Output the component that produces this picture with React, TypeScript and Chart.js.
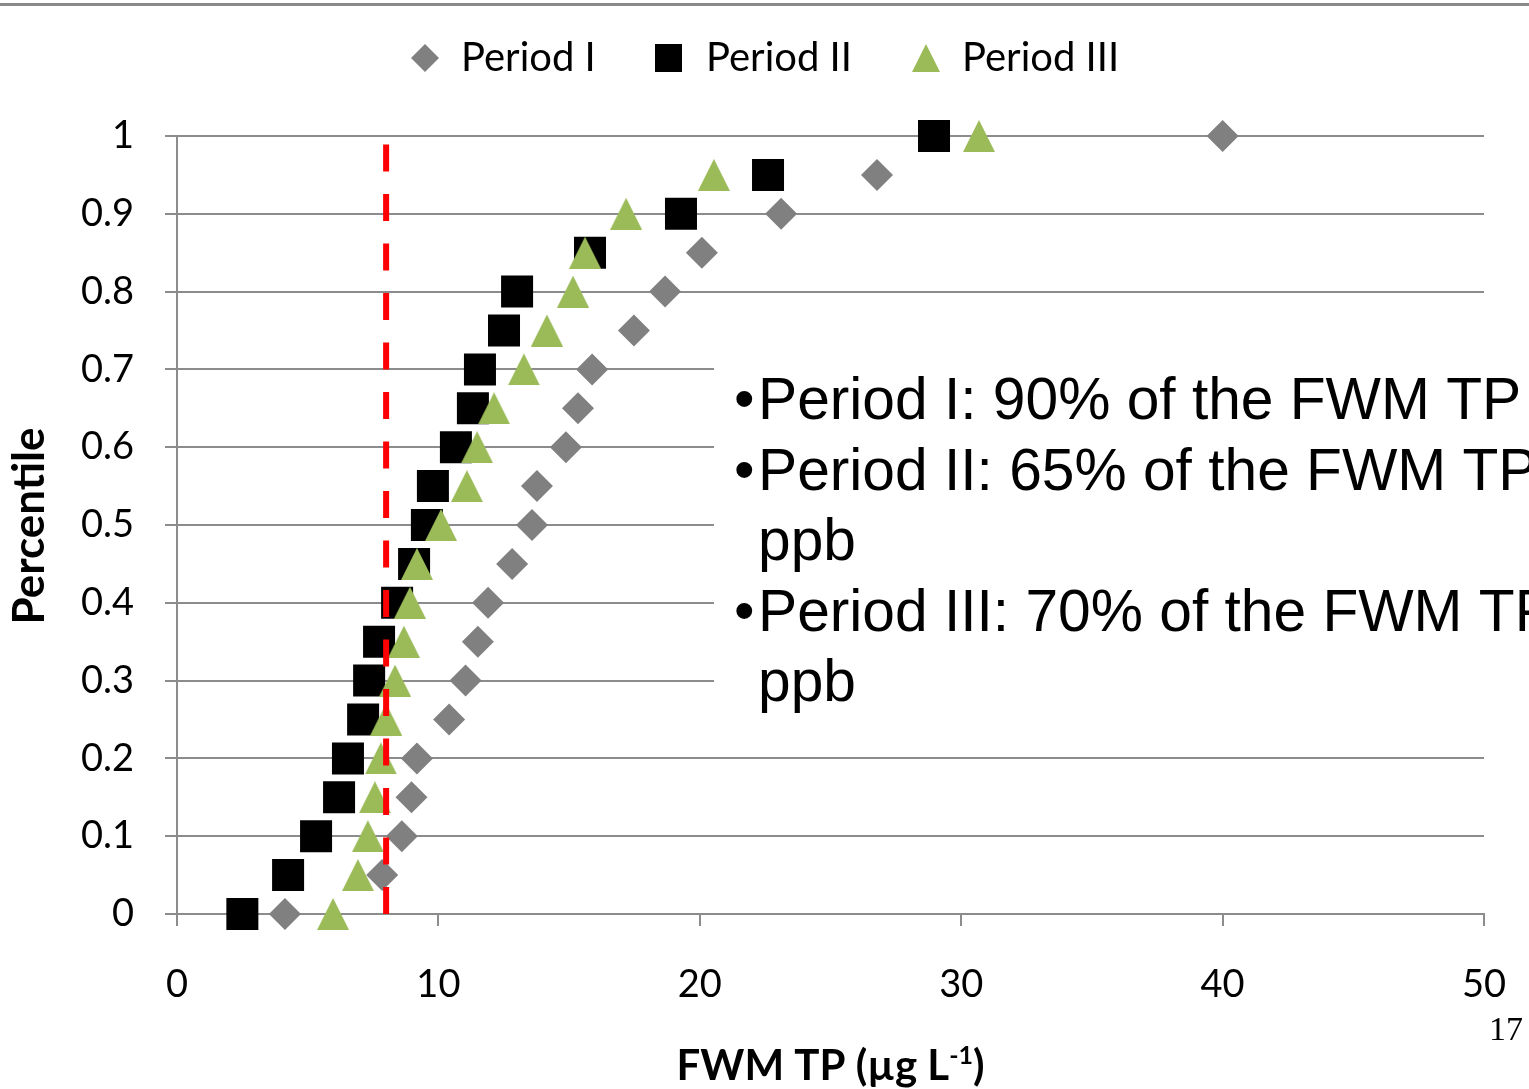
import React, { useEffect, useRef } from 'react';
import { Chart, registerables } from 'chart.js';

Chart.register(...registerables);

// ---- data ----
const percentiles = [0, 0.05, 0.1, 0.15, 0.2, 0.25, 0.3, 0.35, 0.4, 0.45, 0.5, 0.55, 0.6, 0.65, 0.7, 0.75, 0.8, 0.85, 0.9, 0.95, 1];
const periodI = [4.13, 7.85, 8.6, 8.97, 9.18, 10.41, 11.04, 11.51, 11.9, 12.82, 13.58, 13.77, 14.88, 15.34, 15.88, 17.48, 18.67, 20.08, 23.11, 26.78, 40.0];
const periodII = [2.5, 4.25, 5.32, 6.2, 6.54, 7.12, 7.35, 7.73, 8.42, 9.07, 9.56, 9.79, 10.67, 11.32, 11.59, 12.51, 13.01, 15.8, 19.28, 22.61, 28.96];
const periodIII = [5.97, 6.92, 7.3, 7.57, 7.8, 8.0, 8.34, 8.68, 8.91, 9.18, 10.1, 11.09, 11.48, 12.13, 13.27, 14.15, 15.15, 15.61, 17.18, 20.54, 30.68];
const thresholdX = [8, 8];
const thresholdY = [0, 1];
const seriesNames = ['Period I', 'Period II', 'Period III'];
const xTickLabels = ['0', '10', '20', '30', '40', '50'];
const yTickLabels = ['0', '0.1', '0.2', '0.3', '0.4', '0.5', '0.6', '0.7', '0.8', '0.9', '1'];
const xTitleMain = 'FWM TP (µg L';
const xTitleSup = '-1';
const xTitleEnd = ')';
const yTitle = 'Percentile';
const noteLines = [
  { bullet: true, text: 'Period I: 90% of the FWM TP' },
  { bullet: true, text: 'Period II: 65% of the FWM TP' },
  { bullet: false, text: 'ppb' },
  { bullet: true, text: 'Period III: 70% of the FWM TP' },
  { bullet: false, text: 'ppb' },
];
const pageNumber = '17';

const GRID = '#8c8c8c';
const GRAY = '#808080';
const BLACK = '#000000';
const GREEN = '#9BBB59';
const RED = '#FF0000';
const TICK_FONT = 'Lato';

function makeTriangle(w: number, h: number, color: string) {
  const c = document.createElement('canvas');
  c.width = w;
  c.height = h;
  const g = c.getContext('2d')!;
  g.fillStyle = color;
  g.beginPath();
  g.moveTo(w / 2, 0);
  g.lineTo(w, h);
  g.lineTo(0, h);
  g.closePath();
  g.fill();
  return c;
}

const toPoints = (xs: number[], ys: number[]) => xs.map((x, i) => ({ x, y: ys[i] }));

const decorPlugin = {
  id: 'decor',
  beforeDatasetsDraw(chart: any) {
    const ctx = chart.ctx as CanvasRenderingContext2D;
    ctx.save();
    ctx.fillStyle = '#ffffff';
    ctx.fillRect(714, 338, chart.width - 714, 388);
    ctx.restore();
  },
  afterDraw(chart: any) {
    const ctx = chart.ctx as CanvasRenderingContext2D;
    const area = chart.chartArea;
    ctx.save();

    // slide top rule
    ctx.fillStyle = '#8a8a8a';
    ctx.fillRect(0, 3, chart.width, 3);

    // legend
    const ly = 58;
    ctx.fillStyle = GRAY;
    ctx.beginPath();
    ctx.moveTo(425, ly - 14);
    ctx.lineTo(439, ly);
    ctx.lineTo(425, ly + 14);
    ctx.lineTo(411, ly);
    ctx.closePath();
    ctx.fill();
    ctx.fillStyle = BLACK;
    ctx.fillRect(655, ly - 14, 27, 28);
    ctx.fillStyle = GREEN;
    ctx.beginPath();
    ctx.moveTo(926, ly - 14);
    ctx.lineTo(940, ly + 14);
    ctx.lineTo(912, ly + 14);
    ctx.closePath();
    ctx.fill();

    ctx.fillStyle = '#000';
    ctx.font = `40px ${TICK_FONT}`;
    ctx.textBaseline = 'middle';
    ctx.textAlign = 'left';
    ctx.fillText(seriesNames[0], 461, ly);
    ctx.fillText(seriesNames[1], 706, ly);
    ctx.fillText(seriesNames[2], 962, ly);

    // y title
    ctx.save();
    ctx.translate(30, (area.top + area.bottom) / 2 + 1);
    ctx.rotate(-Math.PI / 2);
    ctx.font = `bold 44px ${TICK_FONT}`;
    ctx.textAlign = 'center';
    ctx.textBaseline = 'middle';
    ctx.fillText(yTitle, 0, 0);
    ctx.restore();

    // x title with superscript
    ctx.font = `bold 42px ${TICK_FONT}`;
    const wMain = ctx.measureText(xTitleMain).width;
    const wEnd = ctx.measureText(xTitleEnd).width;
    ctx.font = `bold 25px ${TICK_FONT}`;
    const wSup = ctx.measureText(xTitleSup).width;
    const total = wMain + wSup + wEnd;
    let tx = (area.left + area.right) / 2 - total / 2;
    const tyBase = 1080;
    ctx.textAlign = 'left';
    ctx.textBaseline = 'alphabetic';
    ctx.font = `bold 42px ${TICK_FONT}`;
    ctx.fillText(xTitleMain, tx, tyBase);
    tx += wMain;
    ctx.font = `bold 25px ${TICK_FONT}`;
    ctx.fillText(xTitleSup, tx, tyBase - 16);
    tx += wSup;
    ctx.font = `bold 42px ${TICK_FONT}`;
    ctx.fillText(xTitleEnd, tx, tyBase);

    // notes text box
    ctx.font = '58.7px "Liberation Sans", Arial, sans-serif';
    ctx.textBaseline = 'alphabetic';
    const baselines = [419, 489.5, 560, 630.5, 701];
    noteLines.forEach((ln, i) => {
      if (ln.bullet) ctx.fillText('•', 734, baselines[i]);
      ctx.fillText(ln.text, 758, baselines[i]);
    });

    // page number
    ctx.font = '34px "Liberation Serif", "Times New Roman", serif';
    ctx.textAlign = 'right';
    ctx.textBaseline = 'alphabetic';
    ctx.fillText(pageNumber, 1523, 1040);

    ctx.restore();
  },
};

export default function App() {
  const canvasRef = useRef<HTMLCanvasElement | null>(null);

  useEffect(() => {
    document.body.style.margin = '0';
    document.body.style.overflow = 'hidden';
    const canvas = canvasRef.current!;
    const triangle = makeTriangle(32, 32, GREEN);

    const chart = new Chart(canvas, {
      type: 'scatter',
      data: {
        datasets: [
          {
            type: 'line',
            label: 'threshold',
            data: toPoints(thresholdX, thresholdY),
            borderColor: RED,
            borderWidth: 6,
            borderDash: [27, 22.5],
            pointRadius: 0,
            fill: false,
            order: 0,
            clip: false,
          } as any,
          {
            label: seriesNames[2],
            data: toPoints(periodIII, percentiles),
            pointStyle: triangle,
            pointRadius: 16,
            backgroundColor: GREEN,
            borderWidth: 0,
            order: 1,
            clip: false,
          },
          {
            label: seriesNames[1],
            data: toPoints(periodII, percentiles),
            pointStyle: 'rect',
            pointRadius: 22.63,
            backgroundColor: BLACK,
            borderColor: BLACK,
            borderWidth: 0,
            order: 2,
            clip: false,
          },
          {
            label: seriesNames[0],
            data: toPoints(periodI, percentiles),
            pointStyle: 'rectRot',
            pointRadius: 16,
            backgroundColor: GRAY,
            borderWidth: 0,
            order: 3,
            clip: false,
          },
        ],
      },
      options: {
        responsive: false,
        animation: false,
        devicePixelRatio: 1,
        layout: { padding: { top: 136, right: 45, left: 0, bottom: 0 } },
        plugins: {
          legend: { display: false },
          tooltip: { enabled: false },
        },
        scales: {
          x: {
            type: 'linear',
            min: 0,
            max: 50,
            afterFit: (s: any) => {
              s.height = 175;
              s.paddingRight = 0;
              s.paddingLeft = 0;
            },
            ticks: {
              stepSize: 10,
              padding: 36,
              color: '#000',
              font: { family: TICK_FONT, size: 38 },
              callback: (_v: any, i: number) => xTickLabels[i],
            },
            grid: {
              drawOnChartArea: false,
              drawTicks: true,
              tickLength: 12,
              color: GRID,
              lineWidth: 2,
            },
            border: { display: true, color: GRID, width: 2 },
          },
          y: {
            type: 'linear',
            min: 0,
            max: 1,
            afterFit: (s: any) => {
              s.width = 177;
            },
            ticks: {
              stepSize: 0.1,
              padding: 31,
              color: '#000',
              font: { family: TICK_FONT, size: 38 },
              callback: (_v: any, i: number) => yTickLabels[i],
            },
            grid: {
              drawTicks: true,
              tickLength: 12,
              color: GRID,
              lineWidth: 2,
            },
            border: { display: true, color: GRID, width: 2 },
          },
        },
      },
      plugins: [decorPlugin],
    });

    const fontsToLoad = [
      `38px ${TICK_FONT}`,
      `bold 40px ${TICK_FONT}`,
      '58px "Liberation Sans"',
      '34px "Liberation Serif"',
    ];
    Promise.all(fontsToLoad.map((f) => (document as any).fonts.load(f)))
      .then(() => chart.update())
      .catch(() => {});

    return () => {
      chart.destroy();
    };
  }, []);

  return (
    <div style={{ position: 'absolute', left: 0, top: 0, width: 1529, height: 1089 }}>
      <canvas ref={canvasRef} width={1529} height={1089} style={{ width: 1529, height: 1089, display: 'block' }} />
    </div>
  );
}
